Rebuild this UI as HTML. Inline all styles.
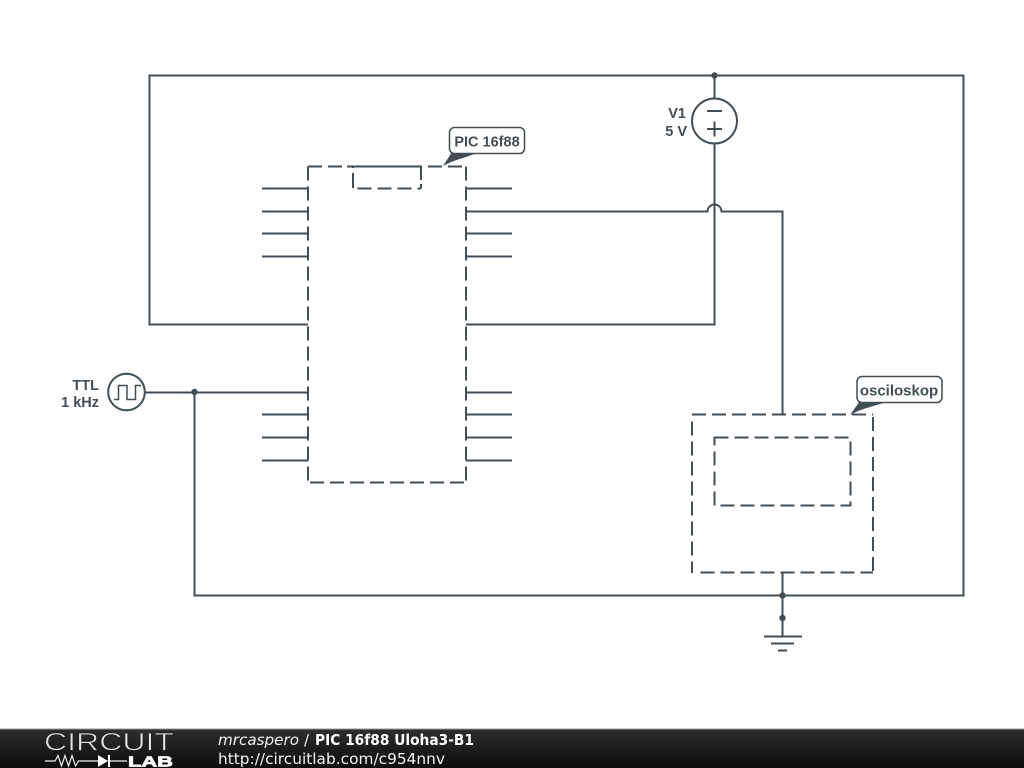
<!DOCTYPE html>
<html><head><meta charset="utf-8"><style>
html,body{margin:0;padding:0;background:#fff}
svg{display:block}
.d{filter:blur(.3px)}
</style></head><body>
<svg width="1024" height="768" viewBox="0 0 1024 768" xmlns="http://www.w3.org/2000/svg">
<defs><linearGradient id="g" x1="0" y1="0" x2="0" y2="1"><stop offset="0" stop-color="#2e2e2e"/><stop offset="1" stop-color="#0c0c0c"/></linearGradient></defs>
<rect width="1024" height="768" fill="#fff"/>
<g class="d">
<g fill="none" stroke="#434e54" stroke-width="2">
<path d="M714.500 121V75.500H149.500V324.500H308"/>
<path d="M964 75.500H714.500M963.500 75V595.500H194.500V392"/>
<path d="M466 324.500H714.500V144"/>
<path d="M466 211.500H707.500A7 7 0 0 1 721.500 211.500H782.500V415"/>
<path d="M145 392.500H308"/>
<path d="M782.500 573V636"/>
<path d="M764 636.500H802M771 643.500H794M778 650.500H787"/>
<path d="M262 188.500H308M262 211.500H308M262 233.500H308M262 256.500H308M262 392.500H308M262 414.500H308M262 437.500H308M262 460.500H308"/>
<path d="M466 188.500H512M466 233.500H512M466 256.500H512M466 392.500H512M466 414.500H512M466 437.500H512M466 460.500H512"/>
<circle cx="714.500" cy="121" r="22.500" fill="#fff"/>
<path d="M707 111H722M707 129H722M714.500 121.500V136.500"/>
<circle cx="126.500" cy="392" r="18.300" fill="#fff"/>
<path stroke-width="1.500" d="M114 399.500H118.500V385.500H127V399.500H135.500V385.500H141"/>
<path d="M347 166.500H421"/>
<path d="M353 166V168M353 173V188M421 166V180M421 184V188.500"/>
<g stroke-dasharray="14 6">
<path d="M308 166.500H466"/>
<path d="M308 166.500V483"/>
<path d="M466 166.500V481"/>
<path d="M310 482.500H466"/>
<path d="M357.500 188.500H421"/>
<path d="M692 414.500H873"/>
<path d="M692 421.500V573"/>
<path d="M873 417V573"/>
<path d="M700.500 572.500H873"/>
<path d="M692 566V573"/>
<rect x="714.500" y="437.500" width="136" height="68"/>
</g>
</g>
<g fill="#434e54">
<circle cx="714.500" cy="75.500" r="3.200"/><circle cx="194.500" cy="392" r="3.200"/><circle cx="782.500" cy="595.500" r="3.200"/><circle cx="782.500" cy="618" r="3.200"/>
<path d="M443 166L452 152H480L463 158Q452 161 443 166Z"/>
<path d="M850 415L860 401H890L870 407Q859 410 850 415Z"/>
</g>
<g stroke="#434e54" stroke-width="1.500" fill="#fff">
<rect x="449.500" y="127.500" width="75" height="26" rx="5"/>
<rect x="857" y="376.500" width="85" height="26" rx="5"/>
</g>
<g fill="#434e54" font-family="'Liberation Sans',sans-serif" font-size="14.500" font-weight="bold">
<text x="487" y="146.500" text-anchor="middle">PIC 16f88</text>
<text x="899" y="395.500" text-anchor="middle" font-size="15">osciloskop</text>
<text x="686" y="118" text-anchor="end">V1</text>
<text x="687" y="136" text-anchor="end">5 V</text>
<text x="99" y="390" text-anchor="end">TTL</text>
<text x="99" y="407" text-anchor="end">1 kHz</text>
</g>
</g>
<rect y="729" width="1024" height="39" fill="url(#g)"/>
<rect y="728.500" width="1024" height="1" fill="#999"/>
<text x="44" y="750.500" font-family="'Liberation Sans',sans-serif" font-size="25" fill="#e4e4e4" stroke="#1c1c1c" stroke-width=".7" textLength="130" lengthAdjust="spacingAndGlyphs">CIRCUIT</text>
<path d="M45 761H55L58 755.500L61.500 766L65 755.500L68.500 766L72 755.500L75.500 766L78.500 761H98M108 761H127" fill="none" stroke="#eee" stroke-width="1.200"/>
<path d="M98 755L108 761L98 767Z" fill="#fff"/><path d="M109 755V767" stroke="#fff" stroke-width="2"/>
<text x="128" y="766.500" font-family="'Liberation Sans',sans-serif" font-size="15" font-weight="bold" fill="#fff" stroke="#fff" stroke-width=".7" textLength="45" lengthAdjust="spacingAndGlyphs">LAB</text>
<g font-family="'DejaVu Sans',sans-serif" font-size="15" fill="#f2f2f2">
<text x="218" y="745" font-style="italic" textLength="81" lengthAdjust="spacingAndGlyphs">mrcaspero</text>
<text x="304" y="745">/</text>
<text x="315" y="745" font-weight="bold" fill="#fff" textLength="159" lengthAdjust="spacingAndGlyphs">PIC 16f88 Uloha3-B1</text>
<text x="218" y="764" textLength="227" lengthAdjust="spacingAndGlyphs">http://circuitlab.com/c954nnv</text>
</g>
</svg>
</body></html>
